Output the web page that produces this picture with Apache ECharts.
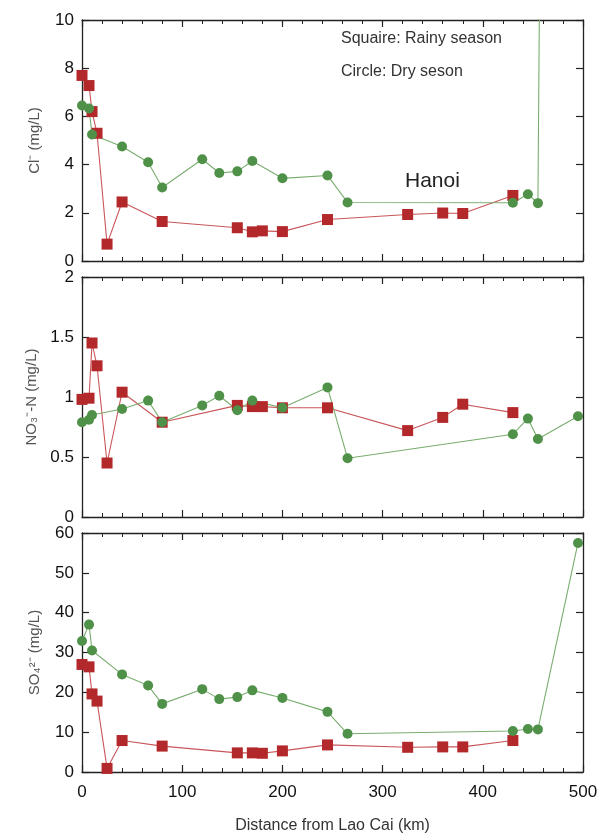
<!DOCTYPE html>
<html>
<head>
<meta charset="utf-8">
<script src="https://cdn.jsdelivr.net/npm/echarts@6/dist/echarts.min.js"></script>
<style>
  html, body { margin: 0; padding: 0; background: #fff; }
  #chart { width: 600px; height: 833px; }
</style>
</head>
<body>
<div id="chart"></div>
<script>
// distance from Lao Cai (km) for each sampling point
var rainyKm = [0, 7, 10, 15, 25, 40, 80, 155, 170, 180, 200, 245, 325, 360, 380, 430];
var dryKm = [0, 7, 10, 40, 66, 80, 120, 137, 155, 170, 200, 245, 265, 430, 445, 455, 495];

// Cl- (mg/L)
var clRainy = [7.7, 7.28, 6.2, 5.3, 0.7, 2.45, 1.64, 1.38, 1.21, 1.25, 1.22, 1.72, 1.93, 1.99, 1.97, 2.72];
var clDry = [6.45, 6.33, 5.25, 4.75, 4.1, 3.05, 4.22, 3.65, 3.72, 4.15, 3.43, 3.55, 2.43, 2.42, 2.77, 2.4, 220];

// NO3- -N (mg/L)
var no3Rainy = [0.98, 0.99, 1.45, 1.26, 0.45, 1.04, 0.79, 0.93, 0.92, 0.92, 0.91, 0.91, 0.72, 0.83, 0.94, 0.87];
var no3Dry = [0.79, 0.81, 0.85, 0.9, 0.97, 0.79, 0.93, 1.01, 0.89, 0.97, 0.91, 1.08, 0.49, 0.69, 0.82, 0.65, 0.84];

// SO4 2- (mg/L)
var so4Rainy = [27.0, 26.4, 19.6, 17.8, 0.9, 7.9, 6.5, 4.8, 4.8, 4.7, 5.3, 6.8, 6.2, 6.3, 6.3, 7.9];
var so4Dry = [32.9, 37.0, 30.5, 24.5, 21.7, 17.1, 20.8, 18.3, 18.8, 20.5, 18.6, 15.1, 9.6, 10.3, 10.8, 10.7, 57.5];

var xTicks = { min: 0, max: 500, interval: 100 };
var panels = [
  { name: 'Cl\u207B (mg/L)', min: 0, max: 10, interval: 2, rainy: clRainy, dry: clDry },
  { name: 'NO\u2083\u207B-N (mg/L)', min: 0, max: 2, interval: 0.5, rainy: no3Rainy, dry: no3Dry },
  { name: 'SO\u2084\u00B2\u207B (mg/L)', min: 0, max: 60, interval: 10, rainy: so4Rainy, dry: so4Dry }
];

function pairs(xs, ys) {
  return xs.map(function (x, i) { return [x, ys[i]]; });
}

var font = 'Liberation Sans, Arial, sans-serif';
var lineBlack = { show: true, onZero: false, lineStyle: { color: '#222', width: 1.3 } };

var grids = [
  { left: 82, top: 20, width: 501, height: 241, outerBoundsMode: 'none' },
  { left: 82, top: 277, width: 501, height: 240, outerBoundsMode: 'none' },
  { left: 82, top: 533, width: 501, height: 239, outerBoundsMode: 'none' }
];

var xAxes = [], yAxes = [], series = [];
panels.forEach(function (p, g) {
  var last = g === panels.length - 1;
  ['bottom', 'top'].forEach(function (pos) {
    xAxes.push({
      type: 'value', gridIndex: g, position: pos,
      min: xTicks.min, max: xTicks.max, interval: xTicks.interval,
      axisLine: lineBlack,
      axisTick: { show: true, inside: true, length: 7, lineStyle: { color: '#222', width: 1.2 } },
      minorTick: { show: true, splitNumber: 5, length: 4, lineStyle: { color: '#222', width: 1 } },
      splitLine: { show: false },
      axisLabel: { show: last && pos === 'bottom', color: '#111', fontSize: 17, fontFamily: font, margin: 12 },
      name: last && pos === 'bottom' ? 'Distance from Lao Cai (km)' : '',
      nameLocation: 'middle', nameGap: 46,
      nameTextStyle: { color: '#333', fontSize: 16, fontFamily: font }
    });
  });
  ['left', 'right'].forEach(function (pos) {
    yAxes.push({
      type: 'value', gridIndex: g, position: pos,
      min: p.min, max: p.max, interval: p.interval,
      axisLine: lineBlack,
      axisTick: { show: true, inside: true, length: 7, lineStyle: { color: '#222', width: 1.2 } },
      splitLine: { show: false },
      axisLabel: { show: pos === 'left', color: '#111', fontSize: 17, fontFamily: font, margin: 8 },
      name: pos === 'left' ? p.name : '',
      nameLocation: 'middle', nameGap: 40,
      nameTextStyle: { color: '#555', fontSize: 15, fontFamily: font }
    });
  });
  series.push({
    type: 'line', xAxisIndex: g * 2, yAxisIndex: g * 2,
    data: pairs(rainyKm, p.rainy),
    symbol: 'rect', symbolSize: 11,
    itemStyle: { color: '#b3292b' },
    lineStyle: { color: '#c9565a', width: 1.1 },
    clip: true, silent: true, animation: false
  });
  series.push({
    type: 'line', xAxisIndex: g * 2, yAxisIndex: g * 2,
    data: pairs(dryKm, p.dry),
    symbol: 'circle', symbolSize: 10,
    itemStyle: { color: '#4f9148' },
    lineStyle: { color: '#79ad6f', width: 1.1 },
    clip: true, silent: true, animation: false
  });
});

var chart = echarts.init(document.getElementById('chart'));
chart.setOption({
  backgroundColor: '#fff',
  animation: false,
  grid: grids,
  xAxis: xAxes,
  yAxis: yAxes,
  series: series,
  graphic: [
    { type: 'text', left: 341, top: 31, style: { text: 'Squaire: Rainy season', fill: '#333', font: '16px ' + font } },
    { type: 'text', left: 341, top: 64, style: { text: 'Circle: Dry seson', fill: '#333', font: '16px ' + font } },
    { type: 'text', left: 405, top: 171, style: { text: 'Hanoi', fill: '#222', font: '21px ' + font } }
  ]
});
</script>
</body>
</html>
